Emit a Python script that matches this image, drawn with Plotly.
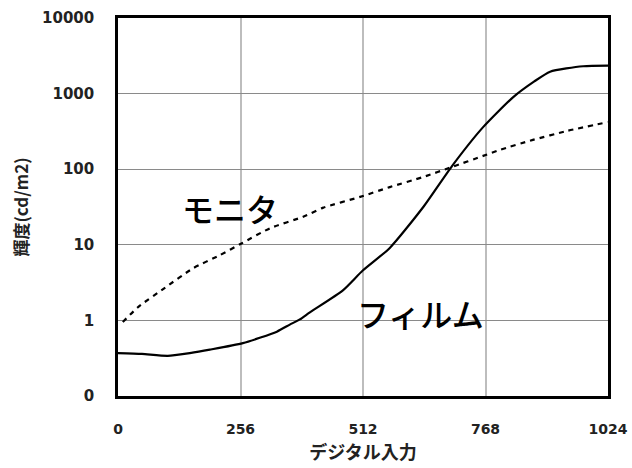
import plotly.graph_objects as go

# Data
film_x = [0, 50, 104, 150, 192, 261, 332, 359, 380, 401, 470, 512, 568, 638, 698, 763, 826, 870, 903, 972, 1024]
film_y = [0.37, 0.36, 0.34, 0.37, 0.41, 0.5, 0.71, 0.88, 1.03, 1.28, 2.5, 4.6, 9.1, 31.6, 110, 360, 900, 1450, 1950, 2300, 2350]

monitor_x = [10, 42, 98, 157, 213, 259, 318, 387, 429, 506, 568, 638, 698, 763, 798, 867, 938, 1024]
monitor_y = [0.95, 1.5, 2.7, 4.9, 7.3, 10.5, 16.6, 23.5, 31, 43, 58, 79, 107, 150, 180, 244, 320, 420]

x_ticks = [0, 256, 512, 768, 1024]
y_tickvals = [0.1, 1, 10, 100, 1000, 10000]
y_ticktext = ["0", "1", "10", "100", "1000", "10000"]

label_monitor = "モニタ"
label_film = "フィルム"

fig = go.Figure()
fig.add_trace(go.Scatter(x=monitor_x, y=monitor_y, mode="lines",
                         line=dict(color="black", width=2.2, dash="5px,5px", shape="spline", smoothing=0.6),
                         showlegend=False))
fig.add_trace(go.Scatter(x=film_x, y=film_y, mode="lines",
                         line=dict(color="black", width=2.2, shape="spline", smoothing=0.6),
                         showlegend=False))

fig.add_annotation(x=234, y=1.487, xref="x", yref="y", text=label_monitor, showarrow=False,
                   font=dict(family="Noto Sans CJK JP", size=32, color="black", weight=500))
fig.add_annotation(x=633, y=0.098, xref="x", yref="y", text=label_film, showarrow=False,
                   font=dict(family="Noto Sans CJK JP", size=32, color="black", weight=500))

fig.update_layout(
    width=632, height=468,
    margin=dict(l=118, r=24, t=18, b=72),
    paper_bgcolor="white", plot_bgcolor="white",
    font=dict(family="DejaVu Sans", color="black"),
)
fig.update_xaxes(
    range=[0, 1024], tickvals=x_ticks, ticktext=[str(v) for v in x_ticks],
    showgrid=True, gridcolor="#bdbdbd", gridwidth=2,
    showline=True, linecolor="black", linewidth=2.5, mirror=True,
    ticks="", ticklabelstandoff=18, zeroline=False, automargin=False,
    ticklabeloverflow="allow",
    tickfont=dict(family="DejaVu Sans", size=14, weight="bold", color="#222"),
    title=dict(text="デジタル入力", font=dict(family="Noto Sans CJK JP", size=18, weight="bold", color="#222"), standoff=11),
)
fig.update_yaxes(
    type="log", range=[-1, 4], tickvals=y_tickvals, ticktext=y_ticktext,
    showgrid=True, gridcolor="#8a8a8a", gridwidth=1,
    showline=True, linecolor="black", linewidth=2.5, mirror=True,
    ticks="", ticklabelstandoff=18, zeroline=False, automargin=False,
    tickfont=dict(family="DejaVu Sans", size=15, weight="bold", color="#222"),
    title=dict(text="輝度(cd/m2)", font=dict(family="Noto Sans CJK JP", size=17, weight="bold", color="#222"), standoff=10),
)

fig.write_html("out.html",
               config={"displayModeBar": False},
               post_script="document.body.style.margin='0';document.body.style.overflow='hidden';")
